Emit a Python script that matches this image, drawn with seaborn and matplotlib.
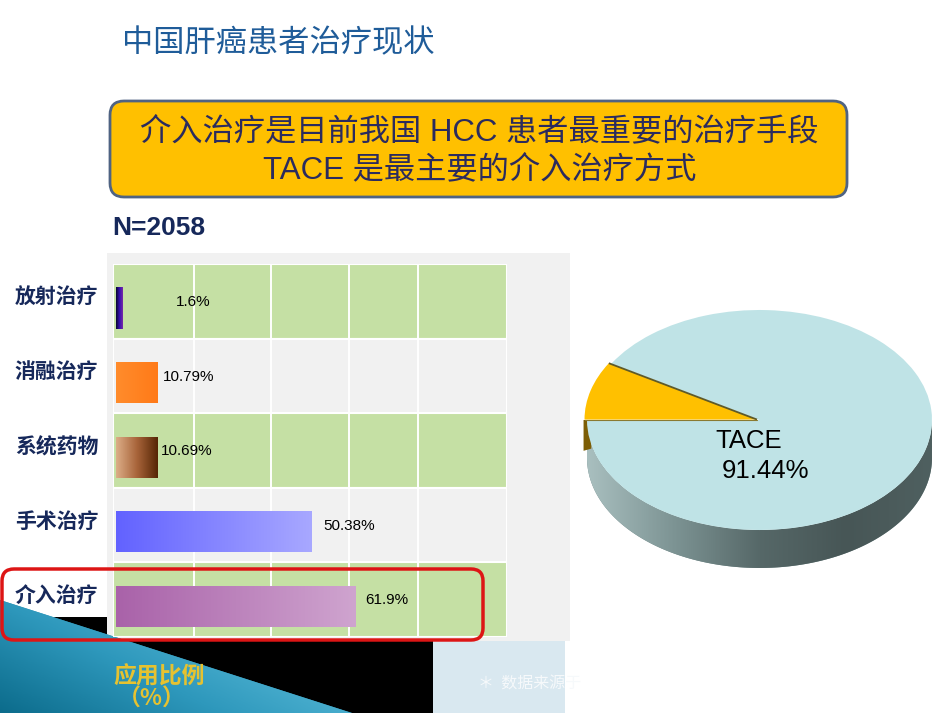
import numpy as np
import pandas as pd
import matplotlib
matplotlib.use("Agg")
import matplotlib.pyplot as plt
import seaborn as sns
from matplotlib.patches import Rectangle, Polygon, FancyBboxPatch
from matplotlib.colors import LinearSegmentedColormap

# ---------------- data ----------------
title = "中国肝癌患者治疗现状"
headline = ["介入治疗是目前我国 HCC 患者最重要的治疗手段", "TACE 是最主要的介入治疗方式"]
sample_label = "N=2058"
categories = ["放射治疗", "消融治疗", "系统药物", "手术治疗", "介入治疗"]
shares = [1.6, 10.79, 10.69, 50.38, 61.9]
share_labels = ["1.6%", "10.79%", "10.69%", "50.38%", "61.9%"]
axis_caption = ["应用比例", "（%）"]
source_note = "＊  数据来源于"
pie_names = ["TACE", "其他"]
pie_values = [91.44, 8.56]
pie_text = ["TACE", "91.44%"]

# ---------------- style ----------------
W, H = 950, 713
sns.set_theme(style="white")
plt.rcParams['font.family'] = ['Liberation Sans', 'Noto Sans CJK SC', 'DejaVu Sans']
CJK = ['Noto Sans CJK SC', 'DejaVu Sans']
NAVY = '#16285a'

fig = plt.figure(figsize=(9.5, 7.13), dpi=100)
fig.patch.set_facecolor('white')


def box(x0, y0, x1, y1):
    return [x0 / W, 1 - y1 / H, (x1 - x0) / W, (y1 - y0) / H]


# ---------------- background decoration ----------------
deco = fig.add_axes([0, 0, 1, 1], zorder=0)
deco.set_xlim(0, W)
deco.set_ylim(H, 0)
deco.axis('off')

deco.add_patch(Rectangle((107, 253), 463, 388, fc='#f1f1f1', ec='none'))
deco.add_patch(Polygon([(0, 617), (107, 617), (107, 641), (433, 641), (433, 713), (0, 713)],
                       closed=True, fc='black', ec='none'))
tri = Polygon([(0, 600), (352, 713), (0, 713)], closed=True, fc='#2b8fb0', ec='none', zorder=2)
deco.add_patch(tri)
teal = LinearSegmentedColormap.from_list('teal', ['#0c6c8c', '#2e98bc', '#5abbd9'])
gx, gy = np.meshgrid(np.linspace(0, 1, 200), np.linspace(0, 1, 60))
grad = np.clip(0.8 * gx + 0.5 * (1 - gy), 0, 1)
im = deco.imshow(grad, cmap=teal, extent=(0, 352, 713, 600), aspect='auto', zorder=2.1)
im.set_clip_path(tri)
deco.set_xlim(0, W)
deco.set_ylim(H, 0)
lb = Rectangle((433, 641), 132, 72, fc='#d9e8f0', ec='none', zorder=2)
deco.add_patch(lb)

deco.text(159, 677, axis_caption[0], fontsize=16.5, fontweight='bold', color='#e6c230',
          ha='center', va='center', family=CJK, zorder=3)
deco.text(152, 699, axis_caption[1], fontsize=16.5, fontweight='bold', color='#e6c230',
          ha='center', va='center', family=CJK, zorder=3)
note = deco.text(478, 684, source_note, fontsize=11.5, color='#f6f9fb', ha='left', va='center',
                 family=CJK, zorder=3)
note.set_clip_path(lb)

deco.text(122, 43, title, fontsize=22.5, color='#1f5c99', ha='left', va='center', family=CJK)
deco.add_patch(FancyBboxPatch((110, 101), 737, 96, boxstyle='round,pad=0,rounding_size=14',
                              fc='#ffc000', ec='#4f6382', lw=2))
deco.text(479.5, 132, headline[0], fontsize=22.5, color='#2b2b5e', ha='center', va='center')
deco.text(479.5, 170, headline[1], fontsize=22.5, color='#2b2b5e', ha='center', va='center')
deco.text(112, 228, sample_label, fontsize=19, fontweight='bold', color=NAVY, ha='left', va='center')

# ---------------- bar chart ----------------
df = pd.DataFrame({"category": categories, "share": shares})
ax = fig.add_axes(box(113, 264, 507, 637), zorder=1)
sns.barplot(data=df, x="share", y="category", orient="h", ax=ax, width=0.55,
            color="#888888", saturation=1, zorder=3)
bars = list(ax.patches)

bar_gradients = [
    ['#05052a', '#3510b0', '#7a2aa8'],
    ['#ff8c2c', '#ff7a18'],
    ['#dcae88', '#a8643a', '#552505'],
    ['#6262ff', '#a8a8ff'],
    ['#a962a9', '#cfa4cf'],
]
for p, cols in zip(bars, bar_gradients):
    x, y, w, h = p.get_x(), p.get_y(), p.get_width(), p.get_height()
    p.set_edgecolor('none')
    cm = LinearSegmentedColormap.from_list('g', cols)
    gi = ax.imshow(np.linspace(0, 1, 256).reshape(1, -1), cmap=cm, extent=(x, x + w, y + h, y),
                   aspect='auto', zorder=3.5)
    gi.set_clip_path(p)

off = 0.09
for i in range(len(categories)):
    ax.axhspan(i - 0.5 - off, i + 0.5 - off, fc='#c5e0a4' if i % 2 == 0 else '#f1f1f1',
               ec='white', lw=1.5, zorder=0)

ax.set_xlim(-0.8, 100.9)
ax.set_ylim(4.5 - off, -0.5 - off)
ax.set_facecolor('#f1f1f1')
ax.set_xticks([20, 40, 60, 78])
ax.set_xticklabels([])
ax.xaxis.grid(True, color='white', lw=1.4, zorder=1)
ax.yaxis.grid(False)
ax.set_axisbelow(True)
ax.set_yticks([i - 0.17 for i in range(len(categories))], categories)
ax.tick_params(axis='y', length=0, pad=10.5)
ax.tick_params(axis='x', length=0)
for t in ax.get_yticklabels():
    t.set_family(CJK)
    t.set_fontsize(15)
    t.set_fontweight('bold')
    t.set_color(NAVY)
ax.set_xlabel('')
ax.set_ylabel('')
for s in ax.spines.values():
    s.set_visible(False)

label_offsets = [54, 5, 3, 12, 9]
for i, (v, lab) in enumerate(zip(shares, share_labels)):
    ax.annotate(lab, xy=(v, i - 0.08), xytext=(label_offsets[i], 0), textcoords='offset pixels',
                ha='left', va='center', fontsize=11, color='black', zorder=5)

# ---------------- red highlight box ----------------
over = fig.add_axes([0, 0, 1, 1], zorder=5)
over.set_xlim(0, W)
over.set_ylim(H, 0)
over.axis('off')
over.patch.set_alpha(0)
over.add_patch(FancyBboxPatch((2, 569), 481, 71, boxstyle='round,pad=0,rounding_size=12',
                              fc='none', ec='#dd1515', lw=2.5))

# ---------------- pie ----------------
pax = fig.add_axes(box(580, 300, 940, 580), zorder=2)
d = 0.345
t = np.linspace(np.pi, 2 * np.pi, 200)
side_pts = np.vstack([np.c_[np.cos(t), np.sin(t)], np.c_[np.cos(t[::-1]), np.sin(t[::-1]) - d]])
side = Polygon(side_pts, closed=True, fc='#6f8787', ec='none', zorder=1)
pax.add_patch(side)
side_cm = LinearSegmentedColormap.from_list('side', ['#a9bfbf', '#7d9494', '#566868', '#475656', '#4f6060'])
si = pax.imshow(np.linspace(0, 1, 256).reshape(1, -1), cmap=side_cm, extent=(-1, 1, -1 - d, 0),
                aspect='auto', zorder=1.5)
si.set_clip_path(side)
pax.add_patch(Polygon([(-1.02, 0.0), (-0.975, 0.0), (-0.975, -0.26), (-1.02, -0.28)],
                      closed=True, fc='#7d5e05', ec='none', zorder=2.5))

wedges, _ = pax.pie(pie_values, colors=['#bfe3e6', '#ffc000'], startangle=180, counterclock=True,
                    explode=[0, 0.015], radius=1, wedgeprops=dict(lw=0, zorder=3))
yw = wedges[1]
cx, cy = yw.center
ang = np.deg2rad(yw.theta1)
pax.plot([cx, cx + yw.r * np.cos(ang)], [cy, cy + yw.r * np.sin(ang)], color='#5e5a2a',
         lw=1.3, zorder=4, solid_capstyle='butt')
pax.plot([cx, cx - yw.r], [cy, cy], color='#8a7a30', lw=0.8, zorder=4)
pax.set_aspect('auto')
pax.set_xlim(-1.0406, 1.0464)
pax.set_ylim(-1.4545, 1.0909)
pax.axis('off')
pax.text(-0.258, -0.19, pie_text[0], fontsize=18.5, ha='left', va='center', color='black', zorder=5)
pax.text(-0.217, -0.464, pie_text[1], fontsize=18.5, ha='left', va='center', color='black', zorder=5)

fig.savefig('out.png', dpi=100, facecolor='white')
